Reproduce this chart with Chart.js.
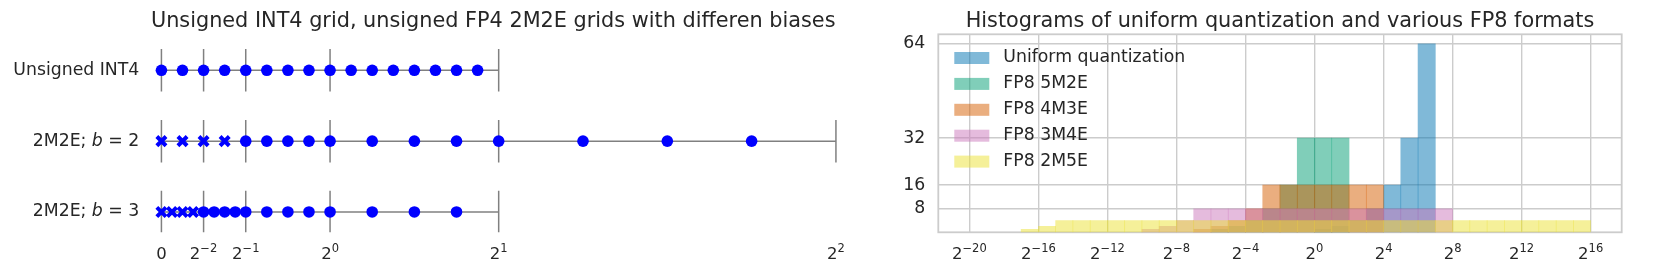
<!DOCTYPE html>
<html>
<head>
<meta charset="utf-8">
<script src="https://cdn.jsdelivr.net/npm/chart.js@4.4.0/dist/chart.umd.min.js"></script>
<style>
  html, body { margin: 0; padding: 0; background: #fff; }
  #wrap { position: relative; width: 1661px; height: 277px; overflow: hidden; }
  #gridChart { position: absolute; left: 0; top: 0; }
  #histChart { position: absolute; left: 860px; top: 0; }
</style>
</head>
<body>
<div id="wrap">
  <canvas id="gridChart" width="880" height="277"></canvas>
  <canvas id="histChart" width="801" height="277"></canvas>
</div>
<script>
// ---- left panel: quantization grids ----
const rowLabels = [
    [['Unsigned INT4', false]],
    [['2M2E; ', false], ['b', true], [' = 2', false]],
    [['2M2E; ', false], ['b', true], [' = 3', false]]
];
const rowY = [3, 2, 1];
const int4Values = [0, 0.125, 0.25, 0.375, 0.5, 0.625, 0.75, 0.875, 1, 1.125, 1.25, 1.375, 1.5, 1.625, 1.75, 1.875];
const b2Subnormal = [0, 0.125, 0.25, 0.375];
const b2Normal = [0.5, 0.625, 0.75, 0.875, 1, 1.25, 1.5, 1.75, 2, 2.5, 3, 3.5];
const b3Subnormal = [0, 0.0625, 0.125, 0.1875];
const b3Normal = [0.25, 0.3125, 0.375, 0.4375, 0.5, 0.625, 0.75, 0.875, 1, 1.25, 1.5, 1.75];
const rowTicks = [
    [0, 0.25, 0.5, 1, 2],
    [0, 0.25, 0.5, 1, 2, 4],
    [0, 0.25, 0.5, 1, 2]
];
const gridTickValues = [0, 0.25, 0.5, 1, 2, 4];
const gridTickBase = ['0', '2', '2', '2', '2', '2'];
const gridTickExp = ['', '\u22122', '\u22121', '0', '1', '2'];

// ---- right panel: histograms (bins are log2 binades) ----
const binStarts = [-20, -19, -18, -17, -16, -15, -14, -13, -12, -11, -10, -9, -8, -7, -6, -5, -4, -3, -2, -1,
    0, 1, 2, 3, 4, 5, 6, 7, 8, 9, 10, 11, 12, 13, 14, 15];
const histNames = ['Uniform quantization', 'FP8 5M2E', 'FP8 4M3E', 'FP8 3M4E', 'FP8 2M5E'];
const uniformCounts = [0,0,0,0,0,0,0,0,0,0, 0,0,0,0,0,0,0,0,0,0, 1,2,4,8,16,32,64,0,0,0, 0,0,0,0,0,0];
const fp5m2eCounts  = [0,0,0,0,0,0,0,0,0,0, 0,0,0,0,1,2,4,8,16,32, 32,32,0,0,0,0,0,0,0,0, 0,0,0,0,0,0];
const fp4m3eCounts  = [0,0,0,0,0,0,0,0,0,0, 0,0,0,1,2,4,8,16,16,16, 16,16,16,16,0,0,0,0,0,0, 0,0,0,0,0,0];
const fp3m4eCounts  = [0,0,0,0,0,0,0,0,0,0, 1,2,4,8,8,8,8,8,8,8, 8,8,8,8,8,8,8,8,0,0, 0,0,0,0,0,0];
const fp2m5eCounts  = [0,0,0,1,2,4,4,4,4,4, 4,4,4,4,4,4,4,4,4,4, 4,4,4,4,4,4,4,4,4,4, 4,4,4,4,4,4];
const histColors = ['rgba(1,115,178,0.5)', 'rgba(2,158,115,0.5)', 'rgba(213,94,0,0.5)', 'rgba(204,120,188,0.5)', 'rgba(236,225,51,0.5)'];
const histTickExps = [-20, -16, -12, -8, -4, 0, 4, 8, 12, 16];
const histYTicks = [8, 16, 32, 64];

const FONT = '"DejaVu Sans", sans-serif';
const TEXT = '#262626';
Chart.defaults.font.family = FONT;
Chart.defaults.color = TEXT;

// draws "base^exp" tick labels under an x scale
function powerLabels(values, bases, exps) {
    return {
        id: 'powerLabels',
        afterDraw(chart) {
            const ctx = chart.ctx;
            const sx = chart.scales.x;
            ctx.save();
            ctx.fillStyle = TEXT;
            ctx.textBaseline = 'alphabetic';
            ctx.textAlign = 'left';
            values.forEach((v, i) => {
                const px = sx.getPixelForValue(v);
                ctx.font = '16.5px ' + FONT;
                const wb = ctx.measureText(bases[i]).width;
                ctx.font = '11.5px ' + FONT;
                const we = ctx.measureText(exps[i]).width;
                const x0 = px - (wb + we) / 2;
                ctx.font = '16.5px ' + FONT;
                ctx.fillText(bases[i], x0, 258.5);
                ctx.font = '11.5px ' + FONT;
                ctx.fillText(exps[i], x0 + wb, 251.5);
            });
            ctx.restore();
        }
    };
}

const rowLabelPlugin = {
    id: 'rowLabels',
    afterDraw(chart) {
        const ctx = chart.ctx;
        const sy = chart.scales.y;
        ctx.save();
        ctx.fillStyle = TEXT;
        ctx.textBaseline = 'middle';
        ctx.textAlign = 'left';
        rowLabels.forEach((parts, r) => {
            const y = sy.getPixelForValue(rowY[r]);
            const widths = parts.map(p => {
                ctx.font = (p[1] ? 'italic ' : '') + '17.3px ' + FONT;
                return ctx.measureText(p[0]).width;
            });
            let x = 139.3 - widths.reduce((a, b) => a + b, 0);
            parts.forEach((p, i) => {
                ctx.font = (p[1] ? 'italic ' : '') + '17.3px ' + FONT;
                ctx.fillText(p[0], x, y);
                x += widths[i];
            });
        });
        ctx.restore();
    }
};

function pts(values, y) {
    return values.map(v => ({x: v, y: y}));
}

const gridDatasets = [
    {data: pts(int4Values, rowY[0]), pointStyle: 'circle', pointRadius: 5.8, pointBackgroundColor: '#0000ff', pointBorderWidth: 0, order: 0},
    {data: pts(b2Subnormal, rowY[1]), pointStyle: 'crossRot', pointRadius: 6.5, pointBorderColor: '#0000ff', pointBorderWidth: 4, order: 0},
    {data: pts(b2Normal, rowY[1]), pointStyle: 'circle', pointRadius: 5.8, pointBackgroundColor: '#0000ff', pointBorderWidth: 0, order: 0},
    {data: pts(b3Subnormal, rowY[2]), pointStyle: 'crossRot', pointRadius: 6.5, pointBorderColor: '#0000ff', pointBorderWidth: 4, order: 0},
    {data: pts(b3Normal, rowY[2]), pointStyle: 'circle', pointRadius: 5.8, pointBackgroundColor: '#0000ff', pointBorderWidth: 0, order: 0}
];
rowTicks.forEach((ticks, r) => {
    // horizontal axis line of the row
    gridDatasets.push({
        data: [{x: ticks[0], y: rowY[r]}, {x: ticks[ticks.length - 1], y: rowY[r]}],
        showLine: true, pointRadius: 0, borderColor: '#808080', borderWidth: 1.5, order: 2
    });
    // short vertical tick marks
    ticks.forEach(t => {
        gridDatasets.push({
            data: [{x: t, y: rowY[r] - 0.3}, {x: t, y: rowY[r] + 0.3}],
            showLine: true, pointRadius: 0, borderColor: '#808080', borderWidth: 1.5, order: 1
        });
    });
});

new Chart(document.getElementById('gridChart'), {
    type: 'scatter',
    data: {datasets: gridDatasets},
    options: {
        responsive: false,
        animation: false,
        layout: {padding: {left: 0, right: 21.3, top: 0, bottom: 0}},
        scales: {
            x: {
                type: 'linear', min: -0.2, max: 4.135,
                afterFit: s => { s.height = 44.7; },
                grid: {display: false}, border: {display: false}, ticks: {display: false}
            },
            y: {
                type: 'linear', min: 0.713, max: 3.508,
                afterFit: s => { s.width = 127.7; },
                grid: {display: false}, border: {display: false}, ticks: {display: false}
            }
        },
        plugins: {
            legend: {display: false},
            tooltip: {enabled: false},
            title: {
                display: true, fullSize: false,
                text: 'Unsigned INT4 grid, unsigned FP4 2M2E grids with differen biases',
                font: {size: 20.8, weight: 'normal'}, color: TEXT,
                padding: {top: 8.8, bottom: 0.54}
            }
        }
    },
    plugins: [rowLabelPlugin, powerLabels(gridTickValues, gridTickBase, gridTickExp)]
});

// ---- histogram chart ----
const histCounts = [uniformCounts, fp5m2eCounts, fp4m3eCounts, fp3m4eCounts, fp2m5eCounts];

const frameAndLegend = {
    id: 'frameAndLegend',
    beforeDatasetsDraw(chart) {
        const a = chart.chartArea;
        const ctx = chart.ctx;
        ctx.save();
        ctx.strokeStyle = '#cccccc';
        ctx.lineWidth = 1.8;
        ctx.strokeRect(a.left, a.top, a.right - a.left, a.bottom - a.top);
        ctx.restore();
    },
    afterDatasetsDraw(chart) {
        const a = chart.chartArea;
        const ctx = chart.ctx;
        ctx.save();
        ctx.font = '17.3px ' + FONT;
        ctx.textBaseline = 'middle';
        ctx.textAlign = 'left';
        histNames.forEach((name, i) => {
            const y = a.top + 23.7 + i * 25.9;
            ctx.fillStyle = histColors[i];
            ctx.fillRect(a.left + 16, y - 6, 35, 12);
            ctx.fillStyle = TEXT;
            ctx.fillText(name, a.left + 65, y);
        });
        ctx.restore();
    }
};

const expLabels = histTickExps.map(e => String(e).replace('-', '\u2212'));

new Chart(document.getElementById('histChart'), {
    type: 'bar',
    data: {
        datasets: histNames.map((name, i) => ({
            label: name,
            // empty bins are left undrawn
            data: binStarts.map((b, j) => ({x: b + 0.5, y: histCounts[i][j] > 0 ? histCounts[i][j] : null})),
            backgroundColor: histColors[i],
            borderWidth: 0,
            grouped: false,
            barPercentage: 1,
            categoryPercentage: 1,
            order: histNames.length - i
        }))
    },
    options: {
        responsive: false,
        animation: false,
        layout: {padding: {left: 0, right: 39.3, top: 0, bottom: 0}},
        scales: {
            x: {
                type: 'linear', min: -21.8, max: 17.8, offset: false,
                afterFit: s => { s.height = 44.7; },
                afterBuildTicks: s => { s.ticks = histTickExps.map(v => ({value: v})); },
                grid: {color: '#cccccc', lineWidth: 1.4, drawTicks: false, offset: false},
                border: {display: false},
                ticks: {display: false}
            },
            y: {
                type: 'linear', min: 0, max: 67.2,
                afterFit: s => { s.width = 78.3; },
                afterBuildTicks: s => { s.ticks = histYTicks.map(v => ({value: v})); },
                grid: {color: '#cccccc', lineWidth: 1.4, drawTicks: false},
                border: {display: false},
                ticks: {padding: 13, font: {size: 17.3}, color: TEXT}
            }
        },
        plugins: {
            legend: {display: false},
            tooltip: {enabled: false},
            title: {
                display: true, fullSize: false,
                text: 'Histograms of uniform quantization and various FP8 formats',
                font: {size: 20.8, weight: 'normal'}, color: TEXT,
                padding: {top: 8.8, bottom: 0.54}
            }
        }
    },
    plugins: [frameAndLegend, powerLabels(histTickExps, histTickExps.map(() => '2'), expLabels)]
});
</script>
</body>
</html>
